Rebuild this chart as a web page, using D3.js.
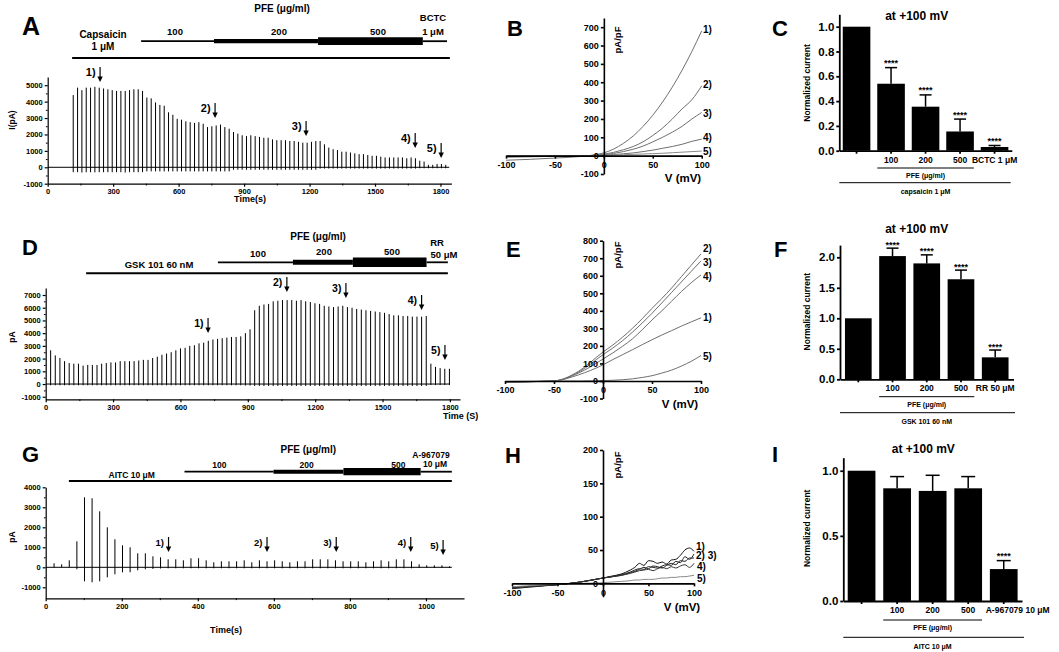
<!DOCTYPE html>
<html>
<head>
<meta charset="utf-8">
<script src="https://cdn.jsdelivr.net/npm/d3@7/dist/d3.min.js"></script>
<style>
html,body{margin:0;padding:0;background:#fff;}
svg{display:block;}
text{font-family:"Liberation Sans",Arial,Helvetica,sans-serif;font-weight:bold;fill:#000;}
</style>
</head>
<body>
<svg id="fig" width="1059" height="652"></svg>
<script>
// ---------------- DATA ----------------
const arrowLabels = ["1)","2)","3)","4)","5)"];

// Panel A : capsaicin trace (peak / trough per sweep, pA)
const aPeaks = [4400,4850,4700,4850,4850,4900,4850,4800,4750,4700,
  4650,4650,4650,4700,4750,4750,4650,4250,4200,3950,
  3800,3750,3350,3200,2950,2900,2800,2750,2700,2750,
  2650,2450,2500,2550,2600,2450,2350,2150,2050,1950,
  1900,1950,1900,1850,1800,1800,1700,1650,1650,1650,
  1600,1600,1550,1500,1500,1550,1600,1600,1400,1200,
  1100,1050,950,950,900,850,800,800,750,700,
  700,650,600,600,600,600,600,550,600,550,
  400,350,150,150,200,200,150];
const aDips = [-300,-300,-320,-300,-300,-310,-300,-300,-300,-300,
  -300,-300,-320,-300,-300,-300,-300,-250,-250,-250,
  -250,-250,-250,-250,-250,-250,-250,-250,-250,-250,
  -250,-250,-250,-250,-250,-250,-250,-150,-150,-150,
  -150,-150,-150,-150,-150,-150,-150,-150,-150,-150,
  -150,-150,-150,-150,-150,-150,-150,-80,-80,-80,
  -80,-80,-80,-80,-80,-80,-80,-80,-80,-80,
  -80,-80,-80,-80,-80,-80,-80,-80,-80,-80,
  -60,-60,-60,-60,-60,-60,-60];
const aSweepStart = 117, aSweepStep = 19.85;
const aXTicks = [0,300,600,900,1200,1500,1800];
const aXMinor = [150,450,750,1050,1350,1650];
const aYTicks = [-1000,0,1000,2000,3000,4000,5000];
const aYMinor = [-500,500,1500,2500,3500,4500];
const aArrowTimes = [240,767,1184,1684,1803];
const aArrowTips = [5200,3000,1900,1180,570];
const aCapsaicin = [112,1843];
const aPFE = [428,762,1239,1719,1830];

// Panel D : GSK101 trace
const dPeaks = [2650,2250,2050,1800,1650,1600,1600,1450,1500,1500,
  1500,1600,1650,1700,1700,1800,1800,1800,1800,1850,
  1900,1900,2050,2150,2300,2400,2500,2650,2800,2850,
  3000,3050,3200,3250,3400,3500,3550,3600,3650,3700,
  3700,3750,4000,4300,5800,6150,6250,6300,6500,6550,
  6600,6600,6600,6550,6600,6500,6450,6350,6300,6150,
  6100,6050,6100,6150,6050,6000,5900,5850,5800,5750,
  5700,5650,5600,5500,5400,5400,5350,5350,5300,5300,
  5300,5350,1600,1350,1250,1200,1200];
const dDips = [-100,-100,-100,-100,-100,-100,-100,-100,-100,-100,
  -100,-100,-100,-100,-100,-100,-100,-100,-100,-100,
  -100,-100,-100,-100,-100,-100,-100,-100,-100,-100,
  -100,-100,-100,-100,-100,-100,-100,-100,-100,-100,
  -100,-100,-120,-120,-150,-150,-150,-150,-150,-150,
  -150,-150,-150,-150,-150,-150,-150,-150,-150,-150,
  -150,-150,-150,-150,-150,-150,-150,-150,-150,-150,
  -150,-150,-150,-150,-150,-150,-150,-150,-150,-150,
  -150,-150,-80,-80,-80,-80,-80];
const dSweepStart = 22, dSweepStep = 20.65;
const dXTicks = [0,300,600,900,1200,1500,1800];
const dXMinor = [150,450,750,1050,1350,1650];
const dYTicks = [-1000,0,1000,2000,3000,4000,5000,6000,7000];
const dYMinor = [-500,500,1500,2500,3500,4500,5500,6500];
const dArrowTimes = [723,1074,1337,1674,1778];
const dArrowTips = [4010,7240,6770,5820,1890];
const dGSK = [180,1791];
const dPFE = [767,1101,1368,1696,1791];

// Panel G : AITC trace
const gPeaks = [200,150,350,1300,3500,3450,2800,2000,1400,1100,
  1000,700,700,550,500,400,400,350,450,450,
  350,250,300,300,300,350,250,350,300,350,
  300,250,300,300,400,400,400,350,300,300,
  300,250,300,350,300,400,400,300,150,100,
  100,100,50];
const gDips = [0,0,0,-100,-700,-750,-700,-500,-350,-250,
  -250,-150,-100,-80,-60,-50,-50,-50,-50,-50,
  -50,-50,-50,-50,-50,-50,-50,-50,-50,-50,
  -50,-50,-50,-50,-50,-50,-50,-50,-50,-50,
  -50,-50,-50,-50,-50,-50,-50,-50,-30,-30,
  -30,-30,-30];
const gSweepStart = 22, gSweepStep = 20;
const gXTicks = [0,200,400,600,800,1000];
const gXMinor = [100,300,500,700,900];
const gYTicks = [-1000,0,1000,2000,3000,4000];
const gYMinor = [-500,500,1500,2500,3500];
const gArrowTimes = [323,582,764,960,1045];
const gArrowTips = [765,765,765,765,615];
const gAITC = [61,1068];
const gPFE = [365,599,783,986,1068];

// Panel B : I-V curves (pA/pF)
const bV = [-100,-75,-50,-25,0,10,20,30,40,50,60,70,80,90,100];
const b1 = [-25,-20,-13,-5,15,36,67,107,159,220,292,374,466,568,680];
const b2 = [-8,-6,-4,-2,8,18,32,50,75,110,150,200,255,305,380];
const b3 = [-6,-5,-3,-1,5,12,22,35,52,75,100,128,160,200,235];
const b4 = [-4,-3,-2,-1,3,6,10,15,22,30,40,50,62,78,90];
const b5 = [-3,-2,-1,0,2,3,5,7,9,11,13,16,19,22,25];
const bYTicks = [-100,0,100,200,300,400,500,600,700];

// Panel E
const eV = [-100,-75,-50,-25,0,10,20,30,40,50,60,70,80,90,100];
const e1 = [-8,-4,0,35,92,122,150,178,207,235,262,287,313,337,360];
const e2 = [-8,-4,0,55,165,205,250,300,355,414,470,530,595,660,725];
const e3 = [-8,-4,0,50,150,188,230,278,330,386,445,505,565,625,685];
const e4 = [-8,-4,0,45,125,160,198,240,292,348,400,455,510,560,605];
const e5 = [-3,-2,0,0,2,4,7,12,20,30,45,62,85,112,145];
const eYTicks = [-100,0,100,200,300,400,500,600,700,800];

// Panel H
const hV = [-100,-75,-50,-25,0,10,20,30,35,40,45,50,55,60,65,70,75,80,85,90,95,100];
const h1 = [-8,-5,-2,2,8,11,14,20,24,30,27,34,33,30,32,29,35,36,42,50,53,48];
const h2 = [-6,-4,-2,2,8,10,13,17,20,22,21,25,24,23,26,28,27,33,31,40,36,44];
const h3 = [-6,-4,-2,2,8,10,12,16,18,21,24,22,26,25,23,27,30,28,34,33,38,38];
const h4 = [-7,-4,-2,2,8,10,12,15,17,19,20,21,19,22,24,22,25,23,26,28,24,30];
const h5 = [-5,-3,-1,0,1,2,3,4,5,5,6,6,6,7,8,8,9,9,10,10,11,12];
const hYTicks = [0,50,100,150,200];

// Bar charts (normalized current at +100 mV)
const cCats = ["ctrl","100","200","500","BCTC"];
const cLabels = ["","100","200","500","BCTC 1 μM"];
const cMeans = [1.0,0.54,0.355,0.155,0.03];
const cErrs = [0,0.13,0.095,0.10,0.012];
const cStars = ["","****","****","****","****"];
const cYTicks = [0,0.2,0.4,0.6,0.8,1.0];

const fCats = ["ctrl","100","200","500","RR"];
const fLabels = ["","100","200","500","RR 50 μM"];
const fMeans = [1.0,2.02,1.9,1.64,0.36];
const fErrs = [0,0.13,0.14,0.15,0.12];
const fStars = ["","****","****","****","****"];
const fYTicks = [0,0.5,1.0,1.5,2.0];

const iCats = ["ctrl","100","200","500","A967079"];
const iLabels = ["","100","200","500","A-967079 10 μM"];
const iMeans = [1.0,0.865,0.845,0.865,0.245];
const iErrs = [0,0.09,0.12,0.09,0.065];
const iStars = ["","","","","****"];
const iYTicks = [0,0.5,1.0];

// ---------------- DRAWING ----------------
const svg = d3.select("#fig");
const plain = d => String(d);

function txt(g, x, y, s, size, anchor) {
  return g.append("text").attr("x", x).attr("y", y).attr("font-size", size)
    .attr("text-anchor", anchor || "middle").text(s);
}
function vtxt(g, x, y, s, size) {
  return g.append("text").attr("transform", `translate(${x},${y}) rotate(-90)`)
    .attr("font-size", size).attr("text-anchor", "middle")
    .attr("dominant-baseline", "central").text(s);
}
function styleAxis(a, fs, sw) {
  a.attr("font-family", null).attr("font-size", null);
  a.selectAll("text").attr("font-size", fs).attr("fill", "#000");
  a.selectAll("path,line").attr("stroke", "#000").attr("stroke-width", sw);
}
function arrow(g, x, tip, label, fs) {
  g.append("line").attr("x1", x).attr("x2", x).attr("y1", tip - 15).attr("y2", tip - 4)
    .attr("stroke", "#000").attr("stroke-width", 1.2);
  g.append("path").attr("d", `M${x-2.7},${tip-5.5}L${x+2.7},${tip-5.5}L${x},${tip}Z`).attr("fill", "#000");
  txt(g, x - 4.5, tip - 6, label, fs, "end");
}
function drug(g, x, t0, t1, ypx, w) {
  g.append("line").attr("x1", x(t0)).attr("x2", x(t1)).attr("y1", ypx).attr("y2", ypx)
    .attr("stroke", "#000").attr("stroke-width", w);
}

function tracePanel(o) {
  const g = svg.append("g");
  const x = d3.scaleLinear().domain(o.xDomain).range(o.xRange);
  const y = d3.scaleLinear().domain(o.yDomain).range(o.yRange);
  g.append("line").attr("x1", x(o.base[0])).attr("x2", x(o.base[1]))
    .attr("y1", y(0)).attr("y2", y(0)).attr("stroke", "#000").attr("stroke-width", 1);
  g.append("g").selectAll("line").data(o.peaks).join("line")
    .attr("x1", (d, i) => x(o.start + i * o.step)).attr("x2", (d, i) => x(o.start + i * o.step))
    .attr("y1", (d, i) => y(o.dips[i])).attr("y2", d => y(d))
    .attr("stroke", "#000").attr("stroke-width", 1);
  const ya = g.append("g").attr("transform", `translate(${o.xRange[0]},0)`)
    .call(d3.axisLeft(y).tickValues(o.yTicks).tickFormat(plain).tickSize(3).tickSizeOuter(0).tickPadding(2));
  styleAxis(ya, 7.5, 1.2);
  const ym = g.append("g").attr("transform", `translate(${o.xRange[0]},0)`)
    .call(d3.axisLeft(y).tickValues(o.yMinor).tickSize(1.8).tickFormat(""));
  ym.select(".domain").remove(); styleAxis(ym, 7.5, 1);
  const xa = g.append("g").attr("transform", `translate(0,${o.yRange[0]})`)
    .call(d3.axisBottom(x).tickValues(o.xTicks).tickFormat(plain).tickSize(3).tickSizeOuter(0).tickPadding(2));
  styleAxis(xa, 7.5, 1.2);
  const xm = g.append("g").attr("transform", `translate(0,${o.yRange[0]})`)
    .call(d3.axisBottom(x).tickValues(o.xMinor).tickSize(1.8).tickFormat(""));
  xm.select(".domain").remove(); styleAxis(xm, 7.5, 1);
  o.arrowTimes.forEach((t, i) => arrow(g, x(t), y(o.arrowTips[i]), arrowLabels[i], o.arrowFs));
  return { g, x, y };
}

function ivPanel(o) {
  const g = svg.append("g");
  const x = d3.scaleLinear().domain([-100, 100]).range(o.xRange);
  const y = d3.scaleLinear().domain(o.yDomain).range(o.yRange);
  const line = d3.line().x((d, i) => x(o.v[i])).y(d => y(d)).curve(d3.curveMonotoneX);
  o.curves.forEach((c, k) => {
    g.append("path").attr("d", line(c)).attr("fill", "none")
      .attr("stroke", o.colors[k]).attr("stroke-width", o.widths[k]);
  });
  const xa = g.append("g").attr("transform", `translate(0,${y(0)})`)
    .call(d3.axisBottom(x).tickValues([-100, -50, 0, 50, 100]).tickFormat(plain).tickSize(3).tickSizeOuter(0).tickPadding(3));
  styleAxis(xa, 9, 1.6);
  const ya = g.append("g").attr("transform", `translate(${x(0)},0)`)
    .call(d3.axisLeft(y).tickValues(o.yTicks).tickFormat(plain).tickSize(3).tickSizeOuter(0).tickPadding(2));
  styleAxis(ya, 9, 1.6);
  o.labels.forEach(l => txt(g, l[0], l[1], l[2], 10, "start"));
  vtxt(g, o.unitPos[0], o.unitPos[1], "pA/pF", 9.5);
  txt(g, o.vPos[0], o.vPos[1], "V (mV)", 11.5);
  return { g, x, y };
}

function barPanel(o) {
  const g = svg.append("g");
  const x = d3.scaleBand().domain(o.cats).range([o.x0, o.x1]).paddingInner(o.pi).paddingOuter(o.po);
  const y = d3.scaleLinear().domain([0, o.ymax]).range([o.y0, o.y1]);
  g.append("g").selectAll("rect").data(o.means).join("rect")
    .attr("x", (d, i) => x(o.cats[i])).attr("width", x.bandwidth())
    .attr("y", d => y(d)).attr("height", d => y(0) - y(d)).attr("fill", "#000");
  o.means.forEach((m, i) => {
    const cx = x(o.cats[i]) + x.bandwidth() / 2;
    const top = y(m + o.errs[i]);
    if (o.errs[i] > 0) {
      g.append("line").attr("x1", cx).attr("x2", cx).attr("y1", y(m)).attr("y2", top)
        .attr("stroke", "#000").attr("stroke-width", 1.5);
      g.append("line").attr("x1", cx - o.cap / 2).attr("x2", cx + o.cap / 2).attr("y1", top).attr("y2", top)
        .attr("stroke", "#000").attr("stroke-width", 1.5);
    }
    if (o.stars[i]) txt(g, cx, top + o.starDy, o.stars[i], 9);
  });
  const ya = g.append("g").attr("transform", `translate(${o.x0},0)`)
    .call(d3.axisLeft(y).tickValues(o.yTicks).tickFormat(d3.format(".1f")).tickSize(3).tickSizeOuter(0).tickPadding(2));
  styleAxis(ya, 11.5, 1.8);
  const xa = g.append("g").attr("transform", `translate(0,${o.y0})`)
    .call(d3.axisBottom(x).tickSize(3).tickSizeOuter(0).tickPadding(3).tickFormat((d, i) => o.labels[i]));
  styleAxis(xa, 8.5, 1.8);
  txt(g, o.titlePos[0], o.titlePos[1], "at +100 mV", 12);
  vtxt(g, o.ylabPos[0], o.ylabPos[1], "Normalized current", 8.5);
  const p0 = x(o.cats[1]), p1 = x(o.cats[3]) + x.bandwidth();
  g.append("line").attr("x1", p0).attr("x2", p1).attr("y1", o.pfeY).attr("y2", o.pfeY)
    .attr("stroke", "#000").attr("stroke-width", 1);
  txt(g, (p0 + p1) / 2, o.pfeY + 10, "PFE (μg/ml)", 7);
  g.append("line").attr("x1", o.x0).attr("x2", o.groupEnd).attr("y1", o.groupY).attr("y2", o.groupY)
    .attr("stroke", "#000").attr("stroke-width", 1);
  txt(g, (p0 + p1) / 2, o.groupY + 11.5, o.groupLabel, 7);
  return { g, x, y, xa };
}

// ---- Panel A ----
{
  const P = tracePanel({
    xDomain: [0, 1850], xRange: [47.7, 451.4], yDomain: [-1000, 5500], yRange: [183.7, 77],
    base: [0, 1840], peaks: aPeaks, dips: aDips, start: aSweepStart, step: aSweepStep,
    yTicks: aYTicks, yMinor: aYMinor, xTicks: aXTicks, xMinor: aXMinor,
    arrowTimes: aArrowTimes, arrowTips: aArrowTips, arrowFs: 11
  });
  const g = P.g, x = P.x;
  drug(g, x, aCapsaicin[0], aCapsaicin[1], 58, 2);
  const w = [1.8, 4.3, 7.7, 1.8];
  for (let i = 0; i < 4; i++) drug(g, x, aPFE[i], aPFE[i + 1], 41.2, w[i]);
  txt(g, 103, 37.5, "Capsaicin", 10); txt(g, 103, 50, "1 μM", 10);
  txt(g, 282, 11.5, "PFE (μg/ml)", 10);
  txt(g, 175, 34.5, "100", 9.5); txt(g, 279, 34.5, "200", 9.5); txt(g, 378, 34.5, "500", 9.5);
  txt(g, 433, 21, "BCTC", 9.5); txt(g, 433, 35, "1 μM", 9.5);
  vtxt(g, 12, 120, "I(pA)", 8.5);
  txt(g, 250, 202, "Time(s)", 9);
  txt(g, 22, 35, "A", 25, "start");
}

// ---- Panel D ----
{
  const P = tracePanel({
    xDomain: [0, 1845], xRange: [45.7, 460], yDomain: [-1200, 7550], yRange: [399.3, 288],
    base: [0, 1800], peaks: dPeaks, dips: dDips, start: dSweepStart, step: dSweepStep,
    yTicks: dYTicks, yMinor: dYMinor, xTicks: dXTicks, xMinor: dXMinor,
    arrowTimes: dArrowTimes, arrowTips: dArrowTips, arrowFs: 10.5
  });
  const g = P.g, x = P.x;
  drug(g, x, dGSK[0], dGSK[1], 273.3, 2);
  const w = [1.8, 5, 9.5, 1.8];
  for (let i = 0; i < 4; i++) drug(g, x, dPFE[i], dPFE[i + 1], 262.3, w[i]);
  txt(g, 159, 268, "GSK 101  60 nM", 9.5);
  txt(g, 318, 239.5, "PFE (μg/ml)", 10);
  txt(g, 258, 257, "100", 9.5); txt(g, 324, 255, "200", 9.5); txt(g, 392, 255, "500", 9.5);
  txt(g, 437, 246, "RR", 9.5); txt(g, 444, 257.5, "50 μM", 9.5);
  vtxt(g, 12, 337, "pA", 8.5);
  txt(g, 443, 419, "Time (S)", 9, "start");
  txt(g, 22, 255, "D", 22, "start");
}

// ---- Panel G ----
{
  const P = tracePanel({
    xDomain: [0, 1100], xRange: [45.7, 464], yDomain: [-1550, 4000], yRange: [598.3, 487.3],
    base: [0, 1068], peaks: gPeaks, dips: gDips, start: gSweepStart, step: gSweepStep,
    yTicks: gYTicks, yMinor: gYMinor, xTicks: gXTicks, xMinor: gXMinor,
    arrowTimes: gArrowTimes, arrowTips: gArrowTips, arrowFs: 9.5
  });
  const g = P.g, x = P.x;
  drug(g, x, gAITC[0], gAITC[1], 481, 2);
  const w = [1.8, 4, 7.3, 1.8];
  for (let i = 0; i < 4; i++) drug(g, x, gPFE[i], gPFE[i + 1], 471.7, w[i]);
  txt(g, 131.7, 477.5, "AITC 10 μM", 8.5);
  txt(g, 308.3, 452.5, "PFE (μg/ml)", 10);
  txt(g, 219.3, 467.5, "100", 8.5); txt(g, 306.7, 467.5, "200", 8.5); txt(g, 398.3, 467.5, "500", 8.5);
  txt(g, 431, 457.7, "A-967079", 8.5); txt(g, 435, 466.5, "10 μM", 8.5);
  vtxt(g, 12, 537, "pA", 8.5);
  txt(g, 226, 633, "Time(s)", 9);
  txt(g, 22, 462, "G", 22, "start");
}

// ---- Panel B ----
{
  const P = ivPanel({
    xRange: [506, 701.7], yDomain: [-100, 750], yRange: [174, 18], v: bV,
    curves: [b1, b2, b3, b4, b5], colors: ["#6f6f6f", "#6f6f6f", "#6f6f6f", "#6f6f6f", "#8a8a8a"],
    widths: [1, 1, 1, 1, 1], yTicks: bYTicks,
    labels: [[703, 32.5, "1)"], [703, 87.5, "2)"], [703, 116.5, "3)"], [703, 140.5, "4)"], [703, 154.5, "5)"]],
    unitPos: [617, 40], vPos: [683, 182]
  });
  txt(P.g, 507, 36, "B", 22, "start");
}

// ---- Panel E ----
{
  const P = ivPanel({
    xRange: [505, 701], yDomain: [-100, 800], yRange: [398.5, 240.7], v: eV,
    curves: [e1, e2, e3, e4, e5], colors: ["#6f6f6f", "#6f6f6f", "#6f6f6f", "#6f6f6f", "#6f6f6f"],
    widths: [1, 1, 1, 1, 1], yTicks: eYTicks,
    labels: [[703, 251.5, "2)"], [703, 265.5, "3)"], [703, 279.5, "4)"], [703, 320.5, "1)"], [703, 359.5, "5)"]],
    unitPos: [617, 255], vPos: [680, 408]
  });
  txt(P.g, 506, 257, "E", 22, "start");
}

// ---- Panel H ----
{
  const P = ivPanel({
    xRange: [512, 694], yDomain: [-20, 200], yRange: [596.7, 450], v: hV,
    curves: [h1, h2, h3, h4, h5], colors: ["#111", "#222", "#222", "#333", "#8a8a8a"],
    widths: [1, 1, 1, 1, 1], yTicks: hYTicks,
    labels: [[696, 550, "1)"], [696, 559, "2) 3)"], [697, 570, "4)"], [697, 581.5, "5)"]],
    unitPos: [617, 465], vPos: [682, 611]
  });
  txt(P.g, 505, 462.7, "H", 22, "start");
}

// ---- Panel C ----
{
  const P = barPanel({
    cats: cCats, labels: cLabels, means: cMeans, errs: cErrs, stars: cStars,
    x0: 839.3, x1: 1011.8, pi: 0.2, po: 0.1, y0: 150.7, y1: 14.3, ymax: 1.1, yTicks: cYTicks,
    cap: 12, starDy: -1.5, titlePos: [916.7, 19.5], ylabPos: [806.7, 83],
    pfeY: 168, groupY: 182.7, groupEnd: 1010.7, groupLabel: "capsaicin 1 μM"
  });
  txt(P.g, 772, 36, "C", 22, "start");
}

// ---- Panel F ----
{
  const P = barPanel({
    cats: fCats, labels: fLabels, means: fMeans, errs: fErrs, stars: fStars,
    x0: 840, x1: 1013.5, pi: 0.22, po: 0.145, y0: 379.3, y1: 245.1, ymax: 2.2, yTicks: fYTicks,
    cap: 12, starDy: -0.5, titlePos: [916.7, 233], ylabPos: [806.7, 311.7],
    pfeY: 396.7, groupY: 412.7, groupEnd: 1015, groupLabel: "GSK 101  60 nM"
  });
  txt(P.g, 774, 257, "F", 22, "start");
}

// ---- Panel I ----
{
  const P = barPanel({
    cats: iCats, labels: iLabels, means: iMeans, errs: iErrs, stars: iStars,
    x0: 843.3, x1: 1022, pi: 0.22, po: 0.124, y0: 601, y1: 457.7, ymax: 1.1, yTicks: iYTicks,
    cap: 14, starDy: -1.5, titlePos: [923.3, 452.5], ylabPos: [806.7, 528.3],
    pfeY: 620, groupY: 637.3, groupEnd: 1024, groupLabel: "AITC  10 μM"
  });
  P.xa.selectAll(".tick").filter((d, i) => i === 4).select("text")
    .attr("text-anchor", "start").attr("x", -18);
  txt(P.g, 772, 462, "I", 22, "start");
}
</script>
</body>
</html>
